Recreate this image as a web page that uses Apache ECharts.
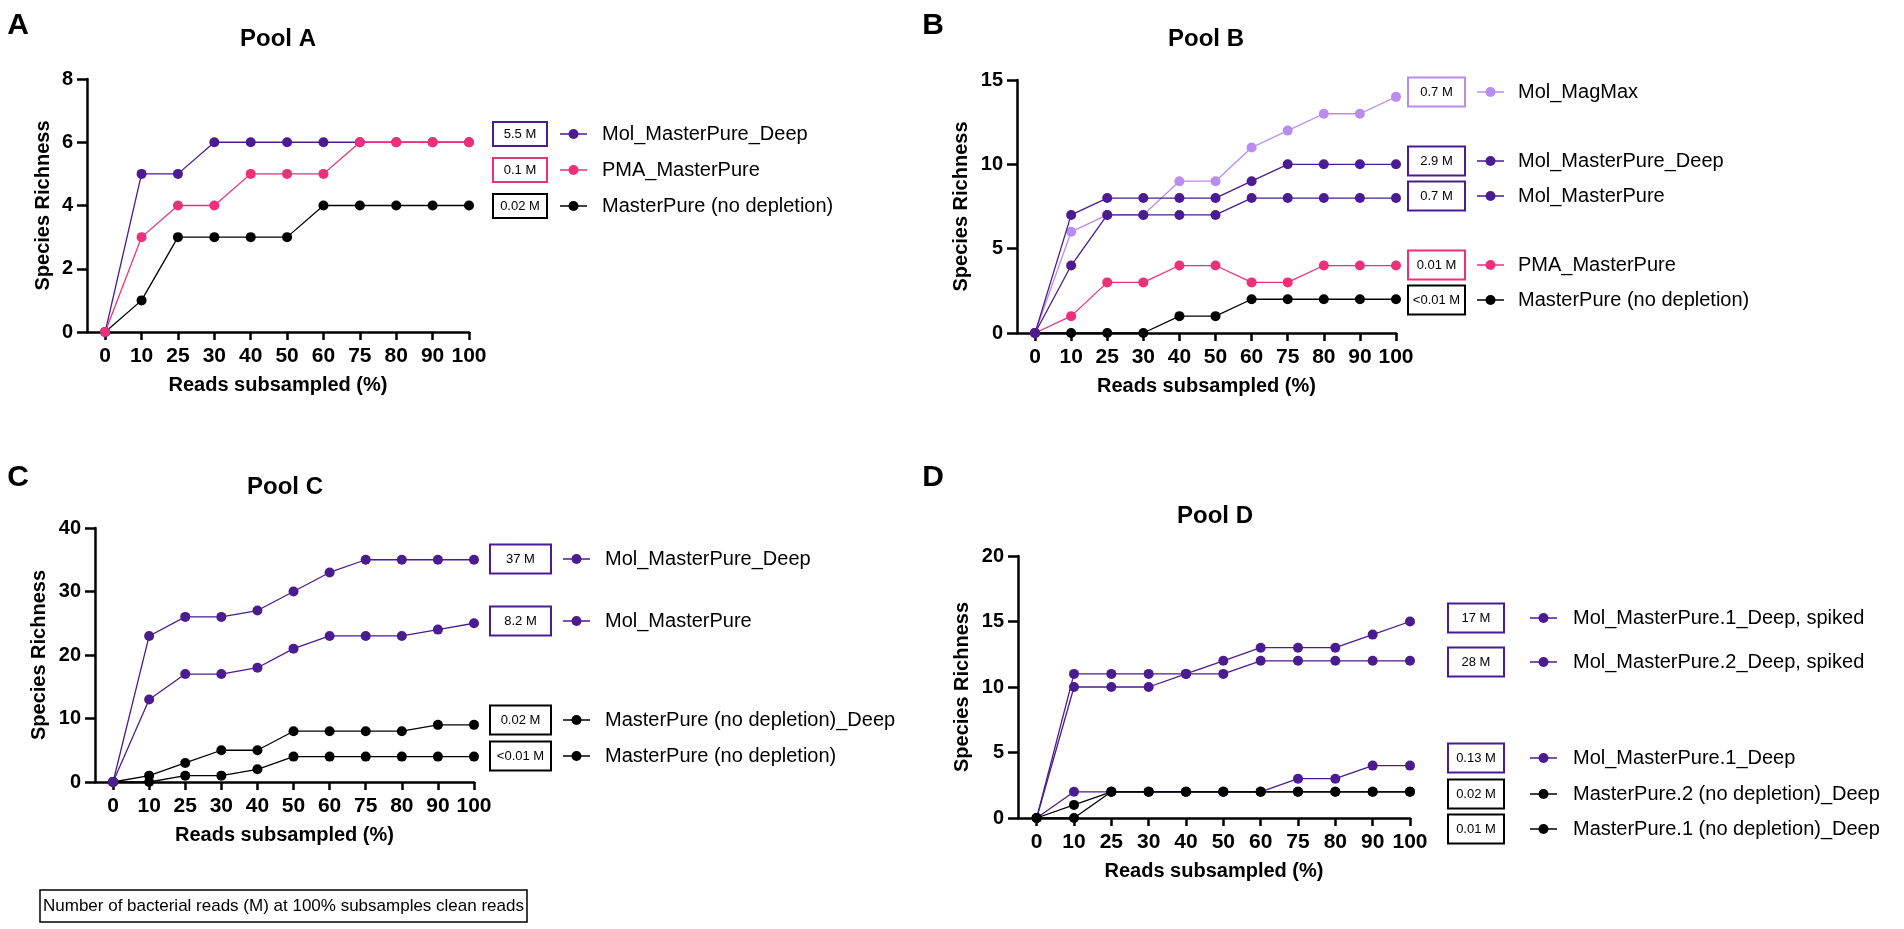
<!DOCTYPE html>
<html><head><meta charset="utf-8">
<script src="https://cdn.jsdelivr.net/npm/echarts@6/dist/echarts.min.js"></script>
<style>html,body{margin:0;padding:0;background:#fff}#c{width:1904px;height:929px}</style>
</head><body><div id="c"></div>
<script>
// ---------- DATA ----------
const categories = ['0','10','25','30','40','50','60','75','80','90','100'];

// Pool A
const poolA_names = ['Mol_MasterPure_Deep','PMA_MasterPure','MasterPure (no depletion)'];
const poolA_reads = ['5.5 M','0.1 M','0.02 M'];
const poolA_MolDeep = [0,5,5,6,6,6,6,6,6,6,6];
const poolA_PMA     = [0,3,4,4,5,5,5,6,6,6,6];
const poolA_MP      = [0,1,3,3,3,3,4,4,4,4,4];

// Pool B
const poolB_names = ['Mol_MagMax','Mol_MasterPure_Deep','Mol_MasterPure','PMA_MasterPure','MasterPure (no depletion)'];
const poolB_reads = ['0.7 M','2.9 M','0.7 M','0.01 M','<0.01 M'];
const poolB_MagMax  = [0,6,7,7,9,9,11,12,13,13,14];
const poolB_MolDeep = [0,7,8,8,8,8,9,10,10,10,10];
const poolB_Mol     = [0,4,7,7,7,7,8,8,8,8,8];
const poolB_PMA     = [0,1,3,3,4,4,3,3,4,4,4];
const poolB_MP      = [0,0,0,0,1,1,2,2,2,2,2];

// Pool C
const poolC_names = ['Mol_MasterPure_Deep','Mol_MasterPure','MasterPure (no depletion)_Deep','MasterPure (no depletion)'];
const poolC_reads = ['37 M','8.2 M','0.02 M','<0.01 M'];
const poolC_MolDeep = [0,23,26,26,27,30,33,35,35,35,35];
const poolC_Mol     = [0,13,17,17,18,21,23,23,23,24,25];
const poolC_MPDeep  = [0,1,3,5,5,8,8,8,8,9,9];
const poolC_MP      = [0,0,1,1,2,4,4,4,4,4,4];

// Pool D
const poolD_names = ['Mol_MasterPure.1_Deep, spiked','Mol_MasterPure.2_Deep, spiked','Mol_MasterPure.1_Deep','MasterPure.2 (no depletion)_Deep','MasterPure.1 (no depletion)_Deep'];
const poolD_reads = ['17 M','28 M','0.13 M','0.02 M','0.01 M'];
const poolD_Mol1Spiked = [0,11,11,11,11,12,13,13,13,14,15];
const poolD_Mol2Spiked = [0,10,10,10,11,11,12,12,12,12,12];
const poolD_Mol1Deep   = [0,2,2,2,2,2,2,3,3,4,4];
const poolD_MP2Deep    = [0,1,2,2,2,2,2,2,2,2,2];
const poolD_MP1Deep    = [0,0,2,2,2,2,2,2,2,2,2];

const footnote = 'Number of bacterial reads (M) at 100% subsamples clean reads';
const xTitle = 'Reads subsampled (%)';
const yTitle = 'Species Richness';

// ---------- STYLE / LAYOUT ----------
const PURPLE = '#4b1c91', PINK = '#ee2f7a', LAVENDER = '#b98cf0', BLACK = '#000000';
const FONT = '"Liberation Sans", Arial, Helvetica, sans-serif';

const panels = [
  { letter:'A', title:'Pool A', grid:{left:87, top:79, width:382, height:253}, yMax:8, yInt:2, nameGap:34,
    titlePos:[278,39], letterPos:[18,26],
    series:[ // draw order
      {data:poolA_MP, name:poolA_names[2], color:BLACK},
      {data:poolA_MolDeep, name:poolA_names[0], color:PURPLE},
      {data:poolA_PMA, name:poolA_names[1], color:PINK}],
    legend:{names:poolA_names, reads:poolA_reads, colors:[PURPLE,PINK,BLACK], boxX:493, boxW:54, boxH:24, lineX:560, textX:602, ys:[134,170,206]} },
  { letter:'B', title:'Pool B', grid:{left:1017, top:80, width:379, height:253}, yMax:15, yInt:5, nameGap:46,
    titlePos:[1206,39], letterPos:[933,26],
    series:[
      {data:poolB_MP, name:poolB_names[4], color:BLACK},
      {data:poolB_PMA, name:poolB_names[3], color:PINK},
      {data:poolB_MagMax, name:poolB_names[0], color:LAVENDER},
      {data:poolB_Mol, name:poolB_names[2], color:PURPLE},
      {data:poolB_MolDeep, name:poolB_names[1], color:PURPLE}],
    legend:{names:poolB_names, reads:poolB_reads, colors:[LAVENDER,PURPLE,PURPLE,PINK,BLACK], boxX:1408, boxW:57, boxH:29, lineX:1477, textX:1518, ys:[92,161,196,265,300]} },
  { letter:'C', title:'Pool C', grid:{left:95, top:528, width:379, height:254}, yMax:40, yInt:10, nameGap:46,
    titlePos:[285,487], letterPos:[18,478],
    series:[
      {data:poolC_MP, name:poolC_names[3], color:BLACK},
      {data:poolC_MPDeep, name:poolC_names[2], color:BLACK},
      {data:poolC_Mol, name:poolC_names[1], color:PURPLE},
      {data:poolC_MolDeep, name:poolC_names[0], color:PURPLE}],
    legend:{names:poolC_names, reads:poolC_reads, colors:[PURPLE,PURPLE,BLACK,BLACK], boxX:490, boxW:61, boxH:29, lineX:563, textX:605, ys:[559,621,720,756]} },
  { letter:'D', title:'Pool D', grid:{left:1018, top:556, width:392, height:262}, yMax:20, yInt:5, nameGap:46,
    titlePos:[1215,516], letterPos:[933,478],
    series:[
      {data:poolD_Mol1Deep, name:poolD_names[2], color:PURPLE},
      {data:poolD_Mol2Spiked, name:poolD_names[1], color:PURPLE},
      {data:poolD_Mol1Spiked, name:poolD_names[0], color:PURPLE},
      {data:poolD_MP1Deep, name:poolD_names[4], color:BLACK},
      {data:poolD_MP2Deep, name:poolD_names[3], color:BLACK}],
    legend:{names:poolD_names, reads:poolD_reads, colors:[PURPLE,PURPLE,PURPLE,BLACK,BLACK], boxX:1448, boxW:56, boxH:29, lineX:1530, textX:1573, ys:[618,662,758,794,829]} }
];

const tickIdx = categories.map((c,k)=>k);
const grids = [], xAxes = [], yAxes = [], series = [], graphics = [];

panels.forEach((p, i) => {
  grids.push(Object.assign({containLabel:false}, p.grid));
  xAxes.push({
    type:'value', gridIndex:i, min:-0.5, max:categories.length-1,
    axisLine:{show:true, onZero:false, lineStyle:{color:'#000', width:2.5}},
    axisTick:{show:true, customValues:tickIdx, length:8, lineStyle:{color:'#000', width:2.5}},
    axisLabel:{show:true, customValues:tickIdx, formatter:v=>categories[Math.round(v)], color:'#000', fontSize:21, fontWeight:'bold', fontFamily:FONT, margin:14},
    splitLine:{show:false},
    name:xTitle, nameLocation:'middle', nameGap:43,
    nameTextStyle:{color:'#000', fontSize:20, fontWeight:'bold', fontFamily:FONT}
  });
  yAxes.push({
    type:'value', gridIndex:i, min:0, max:p.yMax, interval:p.yInt,
    axisLine:{show:true, onZero:false, lineStyle:{color:'#000', width:2.5}},
    axisTick:{show:true, length:10, lineStyle:{color:'#000', width:2.5}},
    axisLabel:{color:'#000', fontSize:20, fontWeight:'bold', fontFamily:FONT, margin:14},
    splitLine:{show:false},
    name:yTitle, nameLocation:'middle', nameRotate:90, nameGap:p.nameGap,
    nameTextStyle:{color:'#000', fontSize:20, fontWeight:'bold', fontFamily:FONT}
  });
  p.series.forEach((s, k) => {
    series.push({
      type:'line', name:s.name, xAxisIndex:i, yAxisIndex:i,
      data:s.data.map((v,j)=>[j,v]),
      symbol:'circle', symbolSize:10, showSymbol:true,
      lineStyle:{color:s.color, width:1.3},
      itemStyle:{color:s.color},
      z:2+k, silent:true, animation:false
    });
  });
  graphics.push({type:'text', x:p.letterPos[0], y:p.letterPos[1],
    style:{text:p.letter, fill:'#000', font:'bold 30px '+FONT, textAlign:'center', textVerticalAlign:'middle', align:'center', verticalAlign:'middle'}});
  graphics.push({type:'text', x:p.titlePos[0], y:p.titlePos[1],
    style:{text:p.title, fill:'#000', font:'bold 24px '+FONT, textAlign:'center', textVerticalAlign:'middle', align:'center', verticalAlign:'middle'}});
  const L = p.legend;
  L.names.forEach((nm, k) => {
    const y = L.ys[k], c = L.colors[k];
    graphics.push({type:'rect', shape:{x:L.boxX, y:y-L.boxH/2, width:L.boxW, height:L.boxH},
      style:{fill:'#fff', stroke:c, lineWidth:2}});
    graphics.push({type:'text', x:L.boxX+L.boxW/2, y:y,
      style:{text:L.reads[k], fill:'#000', font:'13px '+FONT, textAlign:'center', textVerticalAlign:'middle', align:'center', verticalAlign:'middle'}});
    graphics.push({type:'line', shape:{x1:L.lineX, y1:y, x2:L.lineX+27, y2:y}, style:{stroke:c, lineWidth:1.5}});
    graphics.push({type:'circle', shape:{cx:L.lineX+13.5, cy:y, r:5}, style:{fill:c}});
    graphics.push({type:'text', x:L.textX, y:y,
      style:{text:nm, fill:'#000', font:'20px '+FONT, textAlign:'left', textVerticalAlign:'middle', align:'left', verticalAlign:'middle'}});
  });
});

graphics.push({type:'rect', shape:{x:40, y:890, width:487, height:32}, style:{fill:'#fff', stroke:'#000', lineWidth:1.5}});
graphics.push({type:'text', x:283.5, y:906,
  style:{text:footnote, fill:'#000', font:'17px '+FONT, textAlign:'center', textVerticalAlign:'middle', align:'center', verticalAlign:'middle'}});

const chart = echarts.init(document.getElementById('c'), null, {renderer:'canvas'});
chart.setOption({
  animation:false, backgroundColor:'#fff',
  grid:grids, xAxis:xAxes, yAxis:yAxes, series:series, graphic:{elements:graphics}
});
</script></body></html>
